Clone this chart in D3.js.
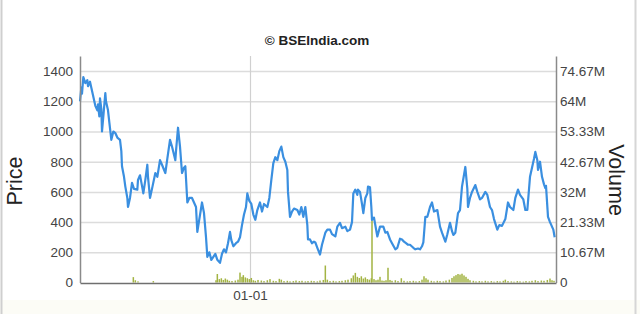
<!DOCTYPE html>
<html>
<head>
<meta charset="utf-8">
<script src="https://cdn.jsdelivr.net/npm/d3@7"></script>
<style>
  body { margin: 0; background: #fff; }
  svg { display: block; font-family: "Liberation Sans", Arial, sans-serif; }
</style>
</head>
<body>
<div id="chart"></div>
<script>
// sessions counted in calendar days from the first point (2007-04-21)
var startDate = new Date(2007, 3, 21);

var priceDays = [0, 2, 3, 5, 8, 11, 12, 15, 17, 20, 23, 26, 27, 29, 30, 32, 33, 35, 38, 39,
  42, 44, 47, 50, 53, 56, 60, 62, 63, 66, 68, 71, 72, 75, 78, 81, 86, 87, 90, 93,
  95, 98, 101, 102, 105, 108, 113, 116, 120, 123, 128, 131, 135, 138, 143, 144, 147, 150, 153, 156,
  158, 161, 164, 168, 171, 174, 176, 179, 183, 186, 189, 191, 194, 197, 200, 203, 206, 210, 213, 216,
  219, 222, 225, 227, 230, 234, 237, 240, 243, 246, 249, 251, 254, 257, 260, 263, 266, 270, 273, 276,
  281, 284, 287, 290, 293, 296, 299, 302, 305, 308, 311, 312, 315, 318, 321, 326, 329, 332, 335, 338,
  341, 342, 345, 348, 351, 353, 356, 360, 363, 368, 371, 375, 378, 383, 386, 390, 393, 398, 401, 405,
  408, 410, 413, 416, 417, 420, 423, 425, 428, 431, 432, 435, 437, 438, 441, 446, 450, 455, 458, 461,
  465, 468, 473, 476, 480, 483, 486, 489, 492, 495, 500, 503, 507, 510, 513, 515, 518, 521, 525, 528,
  531, 536, 540, 543, 548, 551, 555, 558, 560, 563, 567, 570, 573, 578, 581, 582, 585, 588, 593, 596,
  600, 603, 608, 611, 615, 618, 621, 626, 629, 633, 638, 642, 645, 650, 653, 657, 660, 665, 668, 671,
  675, 678, 681, 683, 686, 687, 690, 693, 696, 698, 699, 702, 705, 710, 712];

var priceValues = [1200, 1290, 1250, 1360, 1320, 1340, 1300, 1330, 1290, 1230, 1170, 1140, 1180, 1100, 1220, 1150, 1000, 1100, 1255, 1200,
  1140, 1060, 945, 1000, 990, 960, 945, 870, 770, 700, 635, 560, 500, 560, 660, 620, 615, 680, 710, 640,
  590, 680, 780, 700, 560, 620, 725, 700, 810, 780, 725, 820, 945, 900, 810, 870, 1025, 900, 725, 760,
  770, 530, 560, 560, 530, 500, 335, 420, 530, 460, 300, 170, 200, 150, 170, 190, 150, 130, 190, 220,
  200, 260, 335, 280, 240, 260, 270, 300, 380, 450, 500, 590, 540, 520, 450, 415, 480, 530, 470, 520,
  500, 560, 680, 790, 830, 810, 870, 900, 830, 800, 745, 600, 435, 470, 490, 480, 450, 500, 435, 500,
  380, 285, 285, 260, 270, 265, 230, 185, 250, 330, 350, 350, 320, 305, 370, 395, 360, 370, 340, 350,
  400, 590, 615, 580, 615, 600, 520, 460, 560, 590, 635, 630, 500, 415, 430, 305, 370, 370, 330, 335,
  285, 260, 220, 230, 290, 285, 270, 260, 250, 250, 230, 220, 225, 220, 240, 265, 435, 435, 500, 530,
  470, 480, 370, 330, 270, 320, 395, 340, 315, 330, 460, 480, 635, 765, 620, 500, 560, 600, 645, 600,
  550, 560, 600, 580, 500, 480, 420, 350, 380, 375, 420, 530, 500, 480, 560, 615, 580, 550, 480, 480,
  700, 760, 820, 865, 810, 745, 800, 700, 650, 625, 640, 435, 400, 350, 300];

var volumeDays = [80, 83, 87, 110,
  204, 206, 209, 212, 215, 218, 221, 224, 228, 233, 237, 240, 243, 245, 248, 251,
  254, 257, 260, 263, 267, 272, 276, 281, 285, 290, 294, 299, 302, 306, 311, 315,
  320, 324, 329, 333, 338, 342, 347, 351, 356, 360, 365, 368, 371, 375, 380, 384,
  389, 393, 398, 402, 407, 410, 413, 416, 419, 422, 425, 428, 431, 434, 437, 438,
  441, 444, 447, 450, 453, 456, 459, 462, 465, 468, 473, 477, 482, 486, 491, 495,
  500, 504, 509, 513, 516, 519, 522, 527, 531, 536, 540, 545, 549, 554, 558, 561,
  564, 567, 570, 573, 576, 579, 582, 585, 590, 594, 599, 603, 608, 612, 617, 621,
  626, 630, 635, 638, 642, 647, 651, 656, 660, 665, 669, 674, 678, 683, 687, 692,
  696, 701, 705, 708, 711];

var volumeValues = [1.9, 0.8, 0.4, 0.5,
  0.8, 3.0, 1.2, 1.5, 0.9, 1.4, 1.0, 0.6, 0.5, 0.7, 1.0, 3.5, 2.0, 2.6, 1.8, 1.5,
  1.2, 1.6, 0.8, 0.6, 0.9, 0.7, 0.5, 0.8, 1.2, 0.6, 0.5, 1.3, 1.0, 0.5, 0.6, 0.4,
  0.5, 0.7, 0.5, 0.6, 0.4, 0.5, 0.6, 0.5, 0.4, 0.7, 0.9, 6.0, 1.0, 0.5, 0.6, 0.4,
  0.5, 0.6, 0.8, 1.0, 1.5, 2.5, 3.4, 2.0, 1.6, 2.2, 1.4, 1.8, 1.2, 1.0, 1.5, 22,
  1.2, 0.8, 1.0, 2.0, 0.7, 0.6, 0.8, 5.2, 0.9, 0.6, 0.8, 0.5, 1.5, 0.6, 0.4, 0.5,
  0.6, 0.4, 0.5, 1.0, 2.2, 1.5, 1.0, 0.6, 0.4, 0.6, 0.5, 0.4, 0.7, 1.0, 1.6, 2.2,
  2.6, 3.0, 2.8, 3.1, 2.5, 2.0, 1.3, 0.8, 0.6, 0.4, 0.5, 0.4, 0.6, 0.4, 0.5, 0.3,
  0.5, 0.4, 0.6, 1.0, 0.5, 0.4, 0.3, 0.5, 0.4, 0.3, 0.5, 0.4, 0.6, 0.8, 0.5, 0.7,
  0.6, 0.9, 1.4, 0.8, 0.6]; // millions

var priceTicks = [0, 200, 400, 600, 800, 1000, 1200, 1400];
var volumeTicks = [0, 10.67, 21.33, 32, 42.67, 53.33, 64, 74.67];
var volumeTickLabels = ["0", "10.67M", "21.33M", "32M", "42.67M", "53.33M", "64M", "74.67M"];
var dateTicks = [new Date(2008, 0, 1)];
var dateTickLabels = ["01-01"];

var width = 640, height = 314;
var margin = {top: 56, right: 84, bottom: 31, left: 80};

var svg = d3.select("#chart").append("svg")
  .attr("width", width)
  .attr("height", height);

// frame of the widget
svg.append("rect").attr("x", 0).attr("y", 300).attr("width", width).attr("height", 14).attr("fill", "#fcfcf6");
svg.append("line").attr("x1", 1.5).attr("x2", 1.5).attr("y1", 0).attr("y2", height).attr("stroke", "#cfcfcf").attr("stroke-width", 2);
svg.append("line").attr("x1", 635.5).attr("x2", 635.5).attr("y1", 0).attr("y2", height).attr("stroke", "#d6d6d6").attr("stroke-width", 2);

var x = d3.scaleTime()
  .domain([startDate, d3.timeDay.offset(startDate, 714)])
  .range([margin.left, width - margin.right]);
var y = d3.scaleLinear().domain([0, 1500]).range([height - margin.bottom - 0.5, margin.top]);
var yVol = d3.scaleLinear().domain([0, 80]).range([height - margin.bottom - 0.5, margin.top]);

var prices = priceDays.map(function(d, i) {
  return {date: d3.timeDay.offset(startDate, d), value: priceValues[i]};
});
var volumes = volumeDays.map(function(d, i) {
  return {date: d3.timeDay.offset(startDate, d), value: volumeValues[i]};
});

// gridlines
svg.append("g")
  .attr("transform", "translate(" + margin.left + ",0)")
  .call(d3.axisLeft(y).tickValues(priceTicks.slice(1)).tickSize(-(width - margin.left - margin.right)).tickFormat(""))
  .call(function(g) {
    g.select(".domain").remove();
    g.selectAll("line").attr("stroke", "#dcdcdc").attr("stroke-width", 1.5);
  });

svg.append("g")
  .attr("transform", "translate(0," + margin.top + ")")
  .call(d3.axisBottom(x).tickValues(dateTicks).tickSize(height - margin.bottom - margin.top).tickFormat(""))
  .call(function(g) {
    g.select(".domain").remove();
    g.selectAll("line").attr("stroke", "#d0d0d0").attr("stroke-width", 1.2);
  });

// volume bars
svg.append("g").selectAll("rect")
  .data(volumes)
  .enter()
  .append("rect")
  .attr("x", function(d) { return x(d.date) - 0.75; })
  .attr("width", 1.5)
  .attr("y", function(d) { return yVol(d.value); })
  .attr("height", function(d) { return yVol(0) - yVol(d.value); })
  .attr("fill", "#a3b443");

// price line
var line = d3.line()
  .x(function(d) { return x(d.date); })
  .y(function(d) { return y(d.value); });

svg.append("path")
  .datum(prices)
  .attr("fill", "none")
  .attr("stroke", "#3a8fe0")
  .attr("stroke-width", 2.2)
  .attr("stroke-linejoin", "round")
  .attr("d", line);

// axes
var axisColor = "#8a8a8a";
svg.append("g")
  .attr("transform", "translate(" + margin.left + ",0)")
  .call(d3.axisLeft(y).tickValues(priceTicks).tickSize(0).tickPadding(7).tickFormat(d3.format("d")))
  .call(function(g) {
    g.select(".domain").attr("stroke", axisColor).attr("stroke-width", 1.5);
    g.selectAll("text").attr("font-size", "13.5px").attr("fill", "#444").attr("font-family", "Liberation Sans, Arial, sans-serif");
  });

svg.append("g")
  .attr("transform", "translate(" + (width - margin.right) + ",0)")
  .call(d3.axisRight(yVol).tickValues(volumeTicks).tickSize(0).tickPadding(4)
    .tickFormat(function(d, i) { return volumeTickLabels[i]; }))
  .call(function(g) {
    g.select(".domain").attr("stroke", axisColor).attr("stroke-width", 1.5);
    g.selectAll("text").attr("font-size", "13.5px").attr("fill", "#444").attr("font-family", "Liberation Sans, Arial, sans-serif");
  });

svg.append("g")
  .attr("transform", "translate(0," + (height - margin.bottom) + ")")
  .call(d3.axisBottom(x).tickValues(dateTicks).tickSize(0).tickPadding(7)
    .tickFormat(function(d, i) { return dateTickLabels[i]; }))
  .call(function(g) {
    g.select(".domain").attr("stroke", "#6f6f6f").attr("stroke-width", 1.5);
    g.selectAll("text").attr("font-size", "13.5px").attr("fill", "#444").attr("font-family", "Liberation Sans, Arial, sans-serif");
  });

// titles
svg.append("text")
  .attr("x", 317)
  .attr("y", 45)
  .attr("text-anchor", "middle")
  .attr("font-size", "13.5px")
  .attr("font-weight", "bold")
  .attr("fill", "#222")
  .text("\u00a9 BSEIndia.com");

svg.append("text")
  .attr("transform", "translate(22,181) rotate(-90)")
  .attr("text-anchor", "middle")
  .attr("font-size", "21.5px")
  .attr("fill", "#222")
  .text("Price");

svg.append("text")
  .attr("transform", "translate(609,180) rotate(90)")
  .attr("text-anchor", "middle")
  .attr("font-size", "21.5px")
  .attr("fill", "#222")
  .text("Volume");
</script>
</body>
</html>
